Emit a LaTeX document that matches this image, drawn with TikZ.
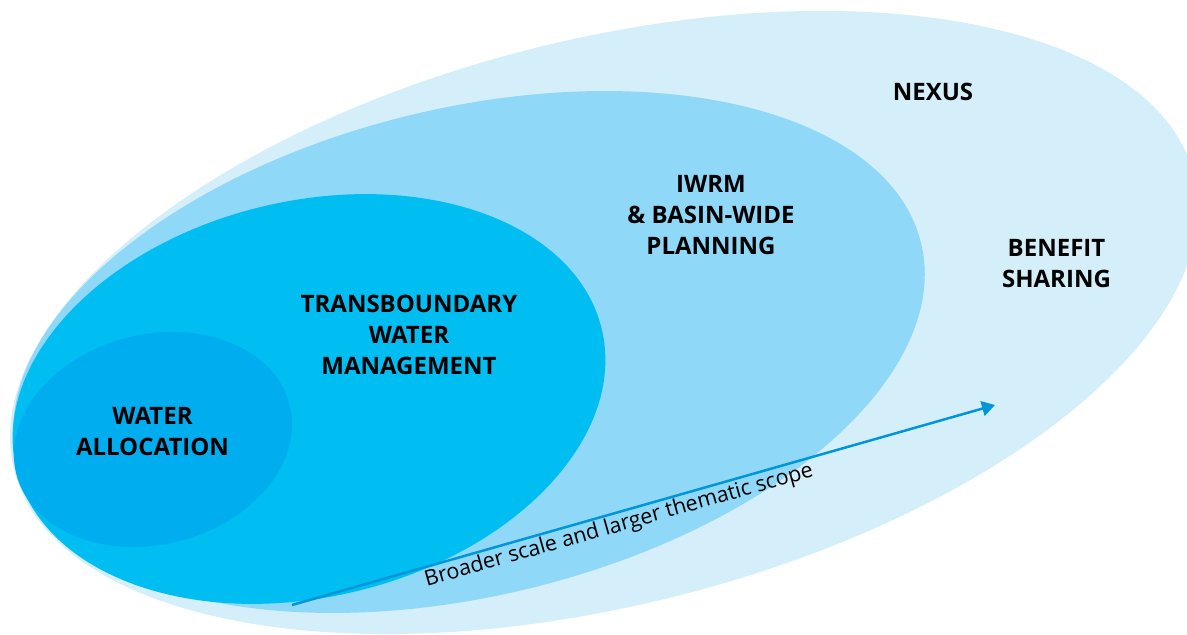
\documentclass[tikz,border=0pt]{standalone}
\usepackage{xcolor}
\usepackage{fontspec}
\setmainfont{Open Sans}
\usepackage{tikz}
\usetikzlibrary{arrows.meta}
\definecolor[named]{nexusblue}{RGB}{212,238,250}
\definecolor[named]{arrowblue}{RGB}{0,150,216}

\begin{document}
\begin{tikzpicture}[x=1pt,y=1pt]
    \definecolor{iwrmblue}{RGB}{143,216,247};
    \definecolor{twmblue}{RGB}{0,190,242};
    \definecolor{allocblue}{RGB}{0,174,239};
   \useasboundingbox (0,0) rectangle (1187,635);
   \clip (0,0) rectangle (1187,635);
   % nested scopes, widest first
   \foreach \cx/\cy/\rx/\ry/\rot/\col in {604/312.5/608/283/14/nexusblue,469/283/465/244/13.5/iwrmblue,309/236/301/198/13.4/twmblue,153/195.5/141/105/14.2/allocblue}
      \fill[\col, rotate around={\rot:(\cx,\cy)}] (\cx,\cy) ellipse [x radius=\rx, y radius=\ry];
   \tikzstyle{every node}=[align=center,text=black,font=\fontsize{24}{31}\selectfont\bfseries];
   \node (nexus) at (933,543) {NEXUS};
   \node (iwrm) at (711,420) {IWRM\\\& BASIN-WIDE\\PLANNING};
   \node (benefit) at (1056.5,371) {BENEFIT\\SHARING};
   \node (twm) at (409,300) {TRANSBOUNDARY\\WATER\\MANAGEMENT};
   \node (alloc) at (152.5,203) {WATER\\ALLOCATION};
   \coordinate (start) at (292,30);
   \coordinate (end) at (995,230);
   \tikzstyle{every node}=[text=black,font=\fontsize{21.5}{24}\selectfont,sloped,below,inner sep=1.5pt];
   \draw[arrowblue,line width=2.5pt,-{Triangle[length=13pt,width=15pt]}] (start) -- node[pos=0.46] (scope) {Broader scale and larger thematic scope} (end);
\end{tikzpicture}
\end{document}
